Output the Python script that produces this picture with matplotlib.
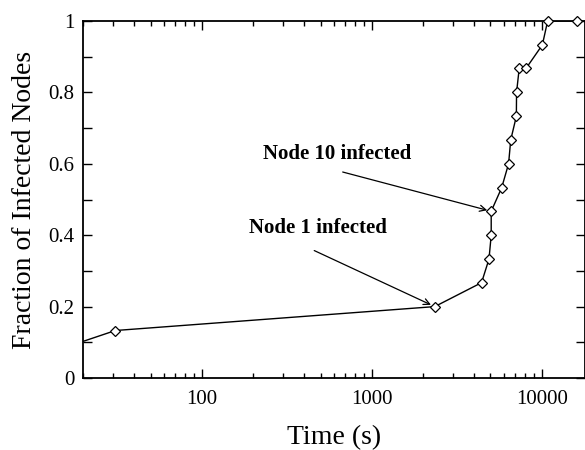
import matplotlib
matplotlib.use("Agg")
import matplotlib.pyplot as plt
from matplotlib.ticker import FixedLocator, NullFormatter, FuncFormatter

plt.rcParams['font.family'] = ['Liberation Serif', 'DejaVu Serif']

# infection times (s) and the fraction of nodes infected by then
times = [12, 31, 2350, 4430, 4900, 5050, 5050, 5820, 6390, 6580,
         7100, 7120, 7380, 8090, 10100, 10850, 16200, 25000]
fraction = [0.067, 0.133, 0.2, 0.267, 0.333, 0.4, 0.467, 0.533, 0.6, 0.667,
            0.733, 0.8, 0.867, 0.867, 0.933, 1.0, 1.0, 1.0]

node1_idx = 2
node10_idx = 6

xmin, xmax = 20, 18000

fig = plt.figure(figsize=(5.85, 4.5), dpi=100)
ax = fig.add_axes([83 / 585, 1 - 378 / 450, 502 / 585, 357 / 450])

ax.plot(times, fraction, color='black', linewidth=1.0)
# markers drawn unclipped so the ones sitting on the top frame stay whole
shown = [(t, f) for t, f in zip(times, fraction) if xmin <= t <= xmax]
ax.plot([p[0] for p in shown], [p[1] for p in shown], linestyle='none',
        marker='D', markersize=4.8, markerfacecolor='white',
        markeredgecolor='black', markeredgewidth=0.9, clip_on=False, zorder=3)

ax.set_xscale('log')
ax.set_xlim(xmin, xmax)
ax.set_ylim(0, 1)

ax.set_xticks([100, 1000, 10000])
ax.xaxis.set_major_formatter(FuncFormatter(lambda v, p: '%d' % v))
ax.xaxis.set_minor_formatter(NullFormatter())
ax.yaxis.set_major_locator(FixedLocator([0, 0.2, 0.4, 0.6, 0.8, 1.0]))
ax.yaxis.set_minor_locator(FixedLocator([0.1, 0.3, 0.5, 0.7, 0.9]))
ax.yaxis.set_major_formatter(FuncFormatter(lambda v, p: '%g' % v))

ax.tick_params(which='both', direction='in', top=True, right=True,
               width=1.0, labelsize=15, colors='black')
ax.tick_params(axis='y', which='both', length=6.5, pad=6)
ax.tick_params(axis='x', which='major', length=6.5, pad=9)
ax.tick_params(axis='x', which='minor', length=3.5)

for s in ax.spines.values():
    s.set_linewidth(1.3)

ax.set_xlabel('Time (s)', fontsize=20, labelpad=11)
ax.set_ylabel('Fraction of Infected Nodes', fontsize=20, labelpad=8)

# labels pointing at the two infection events
arrow = dict(arrowstyle='->', color='black', linewidth=0.9,
             shrinkA=0, shrinkB=3, mutation_scale=11)
ax.text(630, 0.627, 'Node 10 infected', fontsize=15, fontweight='bold',
        ha='center', va='center')
ax.annotate('', xy=(times[node10_idx], fraction[node10_idx]),
            xytext=(675, 0.577), arrowprops=arrow)
ax.text(483, 0.421, 'Node 1 infected', fontsize=15, fontweight='bold',
        ha='center', va='center')
ax.annotate('', xy=(times[node1_idx], fraction[node1_idx]),
            xytext=(459, 0.357), arrowprops=arrow)

fig.savefig('out.png', dpi=100)
